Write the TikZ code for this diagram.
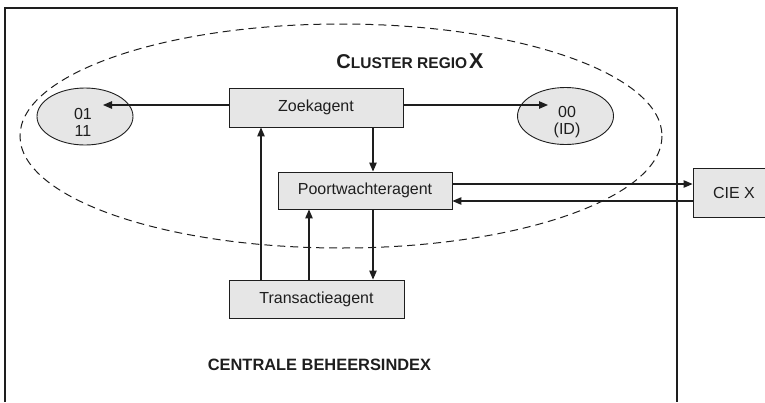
\documentclass[tikz,border=0pt]{standalone}
\usepackage{fontspec}
\setmainfont{Liberation Sans}
\usetikzlibrary{shapes.geometric,arrows.meta,calc}
\definecolor{ink}{HTML}{1E1E1E}
\definecolor{boxfill}{HTML}{E6E6E6}
\tikzset{
  agentbox/.style={draw=ink, fill=boxfill, line width=0.9pt, minimum width=174pt, minimum height=38pt, inner sep=0pt, font=\fontsize{16}{19}\selectfont, text=ink},
  valnode/.style={draw=ink, fill=boxfill, line width=0.9pt, ellipse, minimum width=96pt, minimum height=57pt, inner sep=0pt, align=center, font=\fontsize{16}{17}\selectfont, text=ink},
  arr/.style={draw=ink, line width=1.1pt, -{Triangle[length=9pt,width=7.5pt]}},
  title/.style={font=\bfseries\fontsize{16.4}{19}\selectfont, text=ink}
}
\begin{document}
\begin{tikzpicture}[x=1pt,y=-1pt]
\useasboundingbox (0,0) rectangle (765,402);
% outer frame (no bottom edge visible)
\draw[ink, line width=1.5pt] (5,402) -- (5,8) -- (677,8) -- (677,402);
% cluster ellipse
\draw[ink, line width=1pt, dash pattern=on 8pt off 5pt] (341,136) ellipse [x radius=321, y radius=112];
\node[title] (cluster) at (410,61) {{\fontsize{20}{19}\selectfont C}{\fontsize{15.5}{19}\selectfont LUSTER REGIO}\kern2pt{\fontsize{21.5}{19}\selectfont X}};
\node[title] (central) at (319.5,365) {CENTRALE BEHEERSINDEX};
% nodes
\node[agentbox, minimum height=39pt] (zoek) at (316,107.5) {Zoekagent};
\node[agentbox, minimum height=37pt] (poort) at (365,190.5) {Poortwachteragent};
\node[agentbox, minimum width=175pt] (trans) at (316.5,299) {Transactieagent};
\node[agentbox, minimum width=82pt, minimum height=49pt] (cie) at (734,192.5) {CIE X};
\node[valnode] (v01) at (85,116.5) {};
\node[valnode] (v00) at (565.5,116) {};
\node[font=\fontsize{16}{17}\selectfont, text=ink, align=center] (t01) at (83,122) {01\\11};
\node[font=\fontsize{16}{17}\selectfont, text=ink, align=center] (t00) at (567,122) {00\\(ID)};
% tips inside ellipses
\coordinate (tip01) at (103,105);
\coordinate (tip00) at (548,105);
\draw[arr] (zoek.west |- tip01) -- (tip01);
\draw[arr] (zoek.east |- tip00) -- (tip00);
% vertical arrows
\draw[arr] (trans.north -| 261,0) -- (zoek.south -| 261,0);
\draw[arr] (trans.north -| 309,0) -- (poort.south -| 309,0);
\draw[arr] (zoek.south -| 373,0) -- (poort.north -| 373,0);
\draw[arr] (poort.south -| 373,0) -- (trans.north -| 373,0);
% horizontal arrows to CIE X
\draw[arr] (poort.east |- 0,184) -- (cie.west |- 0,184);
\draw[arr] (cie.west |- 0,201) -- (poort.east |- 0,201);
\end{tikzpicture}
\end{document}
